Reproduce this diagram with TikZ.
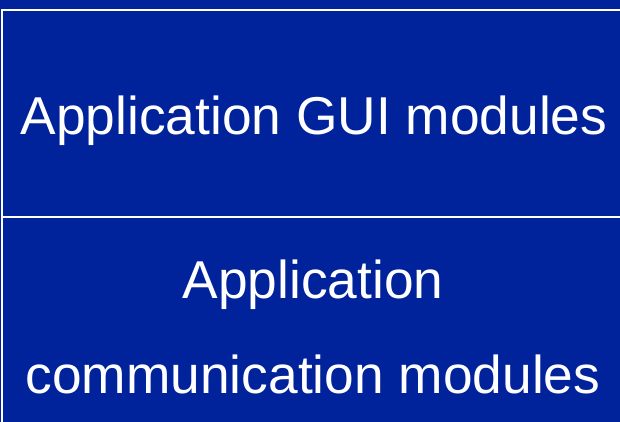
\documentclass[tikz,border=0pt]{standalone}
\usepackage{fontspec}
\setmainfont{Liberation Sans}
\usetikzlibrary{positioning}

\definecolor{slideblue}{RGB}{0,35,155}

\tikzset{
  layer/.style={draw=white,line width=2pt},
  layertext/.style={text=white,font=\fontsize{53.3}{95}\selectfont,align=center,inner sep=0pt}
}

\begin{document}
\begin{tikzpicture}[x=1pt,y=1pt]

  \clip (0,0) rectangle (620,422);
  \fill[slideblue] (0,0) rectangle (620,422);

  % the two layers
  \draw[layer] (2,205) rectangle (640,412);
  \draw[layer] (2,-20) rectangle (640,205);

  \node[layertext] (gui) at (314,301) {Application GUI modules};
  \node[layertext] (comm) at (313,95) {Application\\communication modules};

\end{tikzpicture}
\end{document}
